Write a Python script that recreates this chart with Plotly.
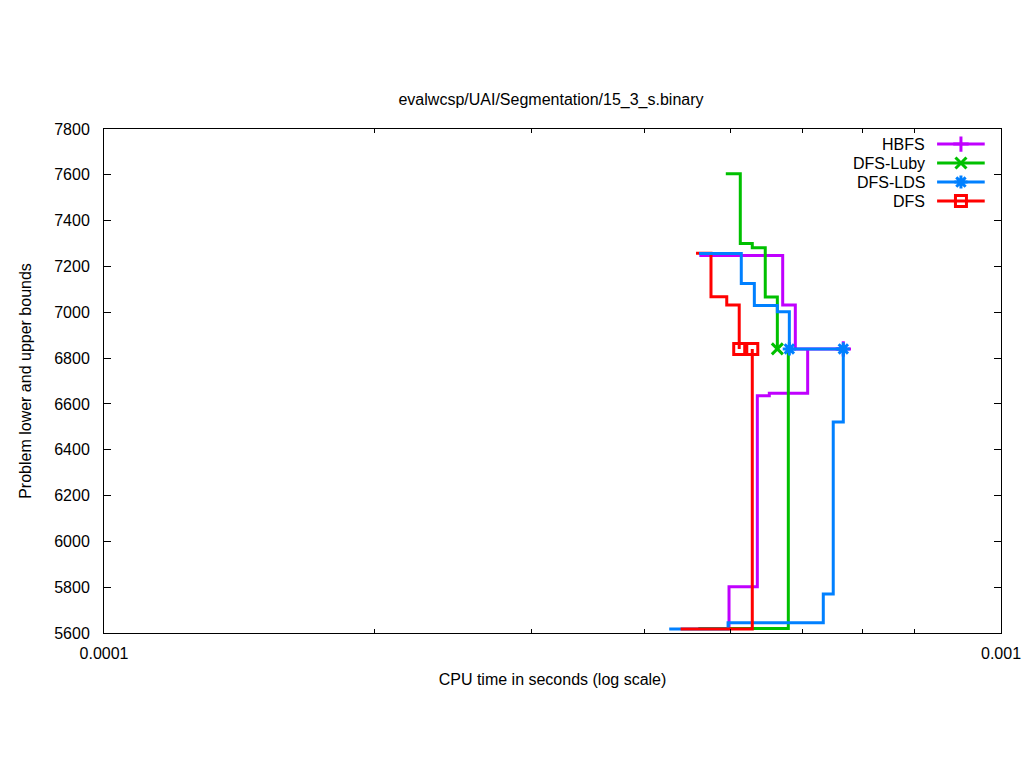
import plotly.graph_objects as go

# ---------------- data ----------------
series_names = ["HBFS", "DFS-Luby", "DFS-LDS", "DFS"]
colors = ["#c000ff", "#00c000", "#0080ff", "#ff0000"]
symbols = ["cross-thin-open", "x-thin-open", "asterisk-open", "square-open"]

# upper / lower bound steps (time in s, value)
hbfs_up_t = [4.61e-4, 5.710e-4, 5.898e-4, 6.671e-4]
hbfs_up_v = [7248, 7032, 6840, 6840]
hbfs_lo_t = [4.60e-4, 4.975e-4, 5.350e-4, 5.517e-4, 6.088e-4]
hbfs_lo_v = [5620, 5802, 6636, 6646, 6840]

luby_up_t = [4.934e-4, 5.121e-4, 5.281e-4, 5.460e-4, 5.632e-4]
luby_up_v = [7605, 7300, 7282, 7067, 6840]
luby_lo_t = [4.60e-4, 5.793e-4]
luby_lo_v = [5620, 6840]

lds_up_t = [4.606e-4, 5.134e-4, 5.309e-4, 5.632e-4, 5.808e-4, 6.671e-4]
lds_up_v = [7257, 7126, 7030, 7002, 6840, 6840]
lds_lo_t = [4.267e-4, 4.963e-4, 6.337e-4, 6.501e-4, 6.671e-4]
lds_lo_v = [5617, 5645, 5770, 6521, 6840]

dfs_up_t = [4.571e-4, 4.750e-4, 4.946e-4, 5.107e-4]
dfs_up_v = [7258, 7068, 7032, 6840]
dfs_lo_t = [4.394e-4, 5.281e-4]
dfs_lo_v = [5617, 6840]

# which points carry a marker (indices)
up_marks = [[3], [4], [4, 5], [3]]
lo_marks = [[], [], [], [1]]

x_ticks = [1e-4, 1e-3]
x_ticktext = ["0.0001", "0.001"]
x_minor = [2e-4, 3e-4, 4e-4, 5e-4, 6e-4, 7e-4, 8e-4, 9e-4]
y_ticks = list(range(5600, 7801, 200))

title = "evalwcsp/UAI/Segmentation/15_3_s.binary"
xlabel = "CPU time in seconds (log scale)"
ylabel = "Problem lower and upper bounds"

ups = [(hbfs_up_t, hbfs_up_v), (luby_up_t, luby_up_v), (lds_up_t, lds_up_v), (dfs_up_t, dfs_up_v)]
los = [(hbfs_lo_t, hbfs_lo_v), (luby_lo_t, luby_lo_v), (lds_lo_t, lds_lo_v), (dfs_lo_t, dfs_lo_v)]

FONT = "Liberation Sans, Arial, sans-serif"
MSIZE = [11, 11, 11, 11]
fig = go.Figure()


def add_step(i, t, v, marks):
    sizes = [MSIZE[i] if k in marks else 0 for k in range(len(t))]
    fig.add_trace(go.Scatter(
        x=t, y=v, mode="lines+markers", line_shape="hv",
        line=dict(color=colors[i], width=3),
        marker=dict(symbol=symbols[i], size=sizes, color=colors[i], opacity=1,
                    line=dict(color=colors[i], width=3)),
        opacity=1, showlegend=False, hoverinfo="skip",
    ))


# drawing order (what ends on top matches the reference)
order = [("u", 0), ("l", 0), ("u", 1), ("l", 1), ("u", 3), ("u", 2), ("l", 2), ("l", 3)]
for kind, i in order:
    if kind == "u":
        add_step(i, ups[i][0], ups[i][1], up_marks[i])
    else:
        add_step(i, los[i][0], los[i][1], lo_marks[i])

# gnuplot-style key: text right-aligned, sample on the right
leg_y = [0.970, 0.9325, 0.8948, 0.857]
for i, name in enumerate(series_names):
    fig.add_trace(go.Scatter(
        x=[0.0, 0.5, 1.0], y=[leg_y[i]] * 3, xaxis="x2", yaxis="y2",
        mode="lines+markers",
        line=dict(color=colors[i], width=3),
        marker=dict(symbol=symbols[i], size=[0, MSIZE[i], 0], color=colors[i], opacity=1,
                    line=dict(color=colors[i], width=3)),
        showlegend=False, hoverinfo="skip",
    ))
    fig.add_annotation(x=0.9175, y=leg_y[i], xref="paper", yref="paper",
                       text=name, showarrow=False, xanchor="right",
                       yanchor="middle", font=dict(family=FONT, size=16, color="black"))

W, H = 1024, 768
fig.update_layout(
    width=W, height=H,
    margin=dict(l=104, r=W - 1001, t=129, b=H - 633),
    paper_bgcolor="white", plot_bgcolor="white",
    font=dict(family=FONT, size=16, color="black"),
    title=dict(text=title, x=551 / W, xanchor="center",
               y=1 - 99 / H, yanchor="middle",
               font=dict(family=FONT, size=16)),
    xaxis=dict(type="log", range=[-4, -3], tickvals=x_ticks, ticktext=x_ticktext,
               ticks="inside", ticklen=8, tickwidth=1, tickcolor="black",
               ticklabelstandoff=6, ticklabeloverflow="allow",
               showline=True, linecolor="black", linewidth=1, mirror="allticks",
               showgrid=False, zeroline=False, automargin=False,
               minor=dict(tickvals=x_minor, ticks="inside", ticklen=4,
                          tickcolor="black", showgrid=False),
               title=dict(text=xlabel, standoff=12, font=dict(family=FONT, size=16))),
    yaxis=dict(range=[5600, 7800], tickvals=y_ticks,
               ticks="inside", ticklen=7, tickwidth=1, tickcolor="black",
               ticklabelstandoff=10,
               showline=True, linecolor="black", linewidth=1, mirror="allticks",
               showgrid=False, zeroline=False, automargin=False,
               title=dict(text=ylabel, standoff=18, font=dict(family=FONT, size=16))),
    xaxis2=dict(domain=[0.9287, 0.982], range=[0, 1], anchor="y2",
                visible=False, fixedrange=True),
    yaxis2=dict(domain=[0, 1], range=[0, 1], anchor="x2", overlaying="y",
                visible=False, fixedrange=True),
)

# remove the default page margin so the 1024x768 figure fills the window exactly
fig.write_html("out.html",
               config={"displayModeBar": False},
               post_script="document.body.style.margin='0';document.body.style.overflow='hidden';")
